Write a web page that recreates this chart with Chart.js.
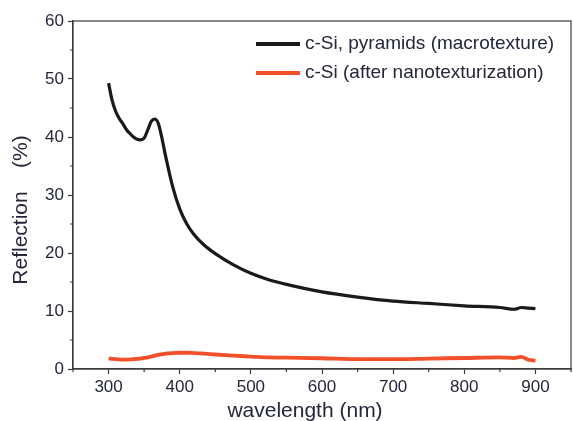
<!DOCTYPE html>
<html>
<head>
<meta charset="utf-8">
<script src="https://cdn.jsdelivr.net/npm/chart.js@4/dist/chart.umd.min.js"></script>
<style>
  html, body { margin: 0; padding: 0; background: #fff; }
  #wrap { width: 573px; height: 421px; }
</style>
</head>
<body>
<div id="wrap"><canvas id="c" width="573" height="421"></canvas></div>
<script>
// ===== Data
const wavelengths = [300, 305, 310, 315, 320, 325, 330, 335, 340, 345, 350, 355, 360, 365, 370, 375, 380, 390, 400, 410, 420, 435, 450, 475, 500, 525, 550, 600, 650, 700, 750, 800, 850, 870, 880, 890, 900];
const pyramids    = [49.3, 46.3, 44.4, 43.2, 42.3, 41.3, 40.6, 40.0, 39.6, 39.5, 39.8, 41.2, 42.7, 43.1, 42.3, 39.8, 36.8, 31.5, 27.6, 25.0, 23.2, 21.3, 19.9, 18.0, 16.5, 15.4, 14.6, 13.3, 12.4, 11.7, 11.3, 10.9, 10.6, 10.3, 10.6, 10.5, 10.4];
const nanotex     = [1.8, 1.75, 1.7, 1.65, 1.6, 1.6, 1.65, 1.7, 1.75, 1.8, 1.9, 2.0, 2.15, 2.3, 2.45, 2.55, 2.65, 2.75, 2.8, 2.8, 2.75, 2.65, 2.5, 2.3, 2.15, 2.0, 1.95, 1.85, 1.7, 1.7, 1.8, 1.9, 2.0, 1.9, 2.1, 1.6, 1.45];
const seriesLabels = ['c-Si, pyramids (macrotexture)', 'c-Si (after nanotexturization)'];
const xTicks = [300, 400, 500, 600, 700, 800, 900];
const yTicks = [0, 10, 20, 30, 40, 50, 60];
const xTitle = 'wavelength (nm)';
const yTitle = 'Reflection    (%)';

const FONT = "'Liberation Sans', Arial, sans-serif";
const TXT = '#24263c';
const AXIS = '#3a3a3a';

const pts = ys => wavelengths.map((x, i) => ({ x, y: ys[i] }));

// frame, minor ticks, axis titles, legend
const decor = {
  id: 'decor',
  afterDraw(chart) {
    const { ctx, chartArea: a, scales: { x, y } } = chart;
    ctx.save();
    ctx.strokeStyle = AXIS;
    ctx.lineWidth = 1.2;
    ctx.strokeRect(a.left, a.top, a.right - a.left, a.bottom - a.top);

    // minor ticks halfway between majors
    ctx.beginPath();
    for (let i = 0; i < xTicks.length; i++) {
      [xTicks[i] - 50, xTicks[i] + 50].forEach(v => {
        if (v < x.min || v > x.max || xTicks.includes(v)) return;
        const px = x.getPixelForValue(v);
        ctx.moveTo(px, a.bottom); ctx.lineTo(px, a.bottom + 3);
      });
    }
    for (let i = 0; i < yTicks.length - 1; i++) {
      const py = y.getPixelForValue(yTicks[i] + 5);
      ctx.moveTo(a.left, py); ctx.lineTo(a.left - 3, py);
    }
    ctx.stroke();

    // axis titles
    ctx.fillStyle = TXT;
    ctx.font = `21px ${FONT}`;
    ctx.textAlign = 'center';
    ctx.textBaseline = 'middle';
    ctx.fillText(xTitle, 305, 411);
    ctx.save();
    ctx.translate(21, 210);
    ctx.rotate(-Math.PI / 2);
    ctx.fillText(yTitle, 0, 0);
    ctx.restore();

    // legend
    ctx.font = `19px ${FONT}`;
    ctx.textAlign = 'left';
    chart.data.datasets.forEach((ds, i) => {
      const ly = 44 + i * 29;
      ctx.strokeStyle = ds.borderColor;
      ctx.lineWidth = 4;
      ctx.beginPath();
      ctx.moveTo(256, ly); ctx.lineTo(300, ly);
      ctx.stroke();
      ctx.fillStyle = TXT;
      ctx.fillText(ds.label, 305, ly);
    });
    ctx.restore();
  }
};

new Chart(document.getElementById('c'), {
  type: 'line',
  data: {
    datasets: [
      { label: seriesLabels[0], data: pts(pyramids), borderColor: '#1a1a1a', borderWidth: 3.2, pointRadius: 0, cubicInterpolationMode: 'monotone' },
      { label: seriesLabels[1], data: pts(nanotex), borderColor: '#f2502a', borderWidth: 3.8, pointRadius: 0, cubicInterpolationMode: 'monotone' }
    ]
  },
  options: {
    responsive: false,
    animation: false,
    layout: { padding: { top: 21, right: 2, left: 0, bottom: 0 } },
    plugins: { legend: { display: false }, tooltip: { enabled: false } },
    scales: {
      x: {
        type: 'linear', min: 250, max: 950,
        afterBuildTicks: s => { s.ticks = xTicks.map(v => ({ value: v })); },
        afterFit: s => { s.height = 52; },
        grid: { drawOnChartArea: false, tickLength: 5, tickColor: AXIS, tickWidth: 1.2 },
        border: { color: AXIS, width: 1.2 },
        ticks: { color: TXT, font: { family: FONT, size: 17 }, padding: 3, maxRotation: 0 }
      },
      y: {
        min: 0, max: 60,
        afterBuildTicks: s => { s.ticks = yTicks.map(v => ({ value: v })); },
        afterFit: s => { s.width = 73; },
        grid: { drawOnChartArea: false, tickLength: 5, tickColor: AXIS, tickWidth: 1.2 },
        border: { color: AXIS, width: 1.2 },
        ticks: { color: TXT, font: { family: FONT, size: 17 }, padding: 4 }
      }
    }
  },
  plugins: [decor]
});
</script>
</body>
</html>
